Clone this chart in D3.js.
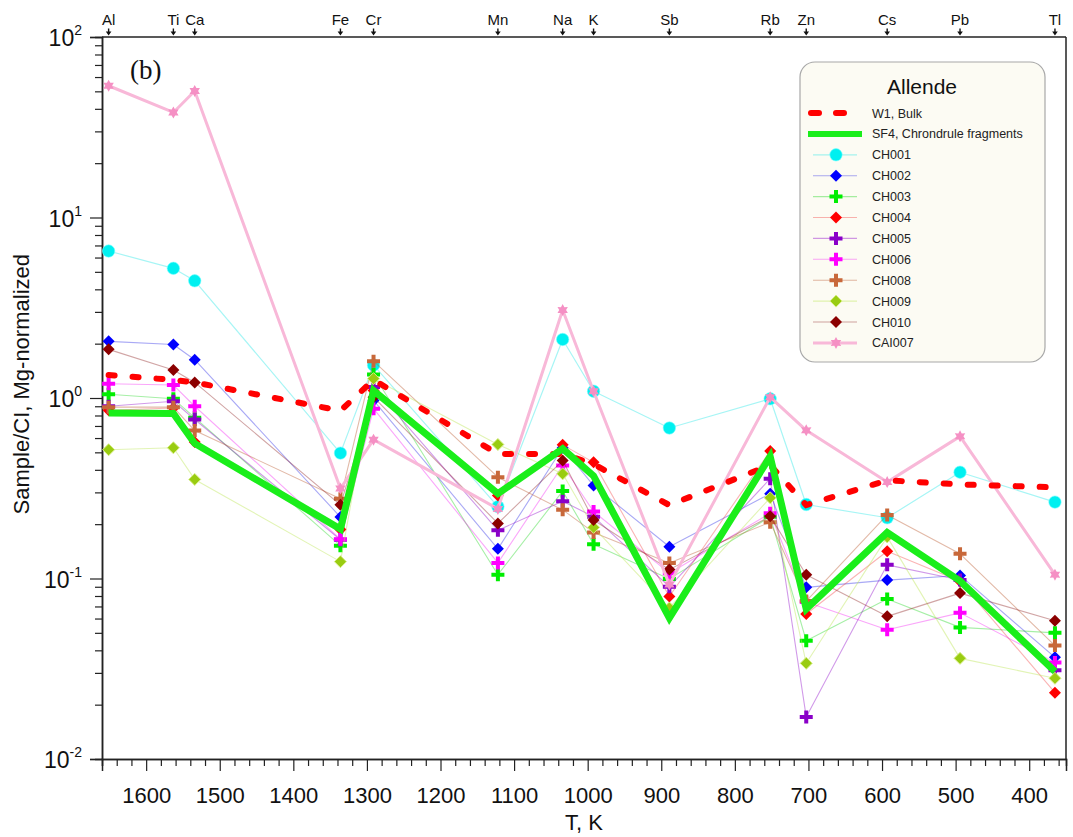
<!DOCTYPE html>
<html>
<head>
<meta charset="utf-8">
<script src="https://cdn.jsdelivr.net/npm/d3@7"></script>
<style>
  html, body { margin: 0; padding: 0; background: #fff; }
  svg { display: block; font-family: Arial, "Liberation Sans", sans-serif; }
</style>
</head>
<body>
<svg id="chart" width="1073" height="837"></svg>
<script>
// Elements and their 50% condensation temperatures (K)
const elements = ["Al", "Ti", "Ca", "Fe", "Cr", "Mn", "Na", "K", "Sb", "Rb", "Zn", "Cs", "Pb", "Tl"];
const tempsK   = [1651, 1563, 1534, 1336, 1291, 1122, 1034, 992, 889, 752, 703, 593, 494, 365];

// CI- and Mg-normalized abundances, one value per element above
const w1Bulk       = [1.34, 1.26, 1.22, 0.85, 1.26, 0.49, 0.49, 0.43, 0.255, 0.425, 0.255, 0.35, 0.332, 0.32];
const sf4Fragments = [0.826, 0.82, 0.56, 0.188, 1.10, 0.295, 0.524, 0.37, 0.0604, 0.475, 0.0678, 0.18, 0.097, 0.0305];
const ch001  = [6.52, 5.23, 4.46, 0.495, 1.52, 0.25, 2.11, 1.09, 0.682, 0.99, 0.257, 0.217, 0.388, 0.265];
const ch002  = [2.06, 1.98, 1.63, 0.219, 0.97, 0.146, 0.53, 0.327, 0.150, 0.295, 0.0893, 0.098, 0.104, 0.0366];
const ch003  = [1.05, 0.99, 0.778, 0.152, 1.35, 0.105, 0.305, 0.155, 0.0995, 0.22, 0.0452, 0.077, 0.0536, 0.050];
const ch004  = [0.855, 0.88, 0.57, 0.187, 1.10, 0.288, 0.55, 0.44, 0.0795, 0.508, 0.0636, 0.1416, 0.0965, 0.0233];
const ch005  = [0.90, 0.96, 0.76, 0.164, 1.15, 0.185, 0.268, 0.22, 0.09, 0.357, 0.0171, 0.119, 0.098, 0.031];
const ch006  = [1.20, 1.18, 0.90, 0.165, 0.873, 0.122, 0.423, 0.235, 0.107, 0.23, 0.074, 0.052, 0.0645, 0.0343];
const ch008  = [0.89, 0.89, 0.66, 0.277, 1.60, 0.364, 0.24, 0.18, 0.122, 0.205, 0.075, 0.225, 0.137, 0.0425];
const ch009  = [0.517, 0.53, 0.354, 0.124, 1.28, 0.553, 0.38, 0.192, 0.0687, 0.28, 0.0339, 0.17, 0.0361, 0.028];
const ch010  = [1.86, 1.43, 1.22, 0.256, 1.01, 0.202, 0.45, 0.211, 0.112, 0.221, 0.105, 0.0617, 0.083, 0.0584];
const cai007 = [53.7, 38.2, 50.2, 0.315, 0.588, 0.243, 3.07, 1.09, 0.0925, 1.01, 0.662, 0.342, 0.613, 0.105];

// Axis tick values
const xMajorTicks = [1600, 1500, 1400, 1300, 1200, 1100, 1000, 900, 800, 700, 600, 500, 400];
const yDecades = [0.01, 0.1, 1, 10, 100];
const yExponents = ["-2", "-1", "0", "1", "2"];

// Point-series styling
const samples = [
  { name: "CH001",  values: ch001,  color: "#00f0f0", line: "rgba(0,225,225,0.35)",   lw: 1.2, marker: "circle" },
  { name: "CH002",  values: ch002,  color: "#0000ff", line: "rgba(40,40,230,0.40)",   lw: 1.1, marker: "diamond" },
  { name: "CH003",  values: ch003,  color: "#00ee00", line: "rgba(0,210,0,0.35)",     lw: 1.1, marker: "plus" },
  { name: "CH004",  values: ch004,  color: "#ff0000", line: "rgba(240,40,40,0.35)",   lw: 1.1, marker: "diamond" },
  { name: "CH005",  values: ch005,  color: "#8a00c8", line: "rgba(140,0,200,0.40)",   lw: 1.1, marker: "plus" },
  { name: "CH006",  values: ch006,  color: "#ff00ff", line: "rgba(240,0,240,0.35)",   lw: 1.1, marker: "plus" },
  { name: "CH008",  values: ch008,  color: "#c8683a", line: "rgba(190,100,60,0.45)",  lw: 1.1, marker: "plus" },
  { name: "CH009",  values: ch009,  color: "#99cc11", line: "rgba(190,230,90,0.45)",  lw: 1.1, marker: "diamond", stroke: "#d8ee88" },
  { name: "CH010",  values: ch010,  color: "#8b0000", line: "rgba(140,30,30,0.40)",   lw: 1.1, marker: "diamond" },
  { name: "CAI007", values: cai007, color: "#f590c4", line: "#f8b8d8",               lw: 3.0, marker: "star" }
];

const svg = d3.select("#chart");
const plotLeft = 102, plotRight = 1066, plotTop = 37, plotBottom = 759;

const x = d3.scaleLinear().domain([1660, 350]).range([plotLeft, plotRight]);
const y = d3.scaleLog().domain([0.01, 100]).range([plotBottom, plotTop]);

// Marker shapes centred on the origin
const markerPath = {
  diamond: "M0,-6L6,0L0,6L-6,0Z",
  plus: "M-2,-6.5H2V-2H6.5V2H2V6.5H-2V2H-6.5V-2H-2Z",
  star: (() => {
    const pts = [];
    for (let i = 0; i < 12; i++) {
      const r = i % 2 === 0 ? 6 : 3.4;
      const a = -Math.PI / 2 + i * Math.PI / 6;
      pts.push([r * Math.cos(a), r * Math.sin(a)]);
    }
    return "M" + pts.map(p => p[0].toFixed(2) + "," + p[1].toFixed(2)).join("L") + "Z";
  })()
};

function drawMarker(g, type, cx, cy, fill, stroke) {
  if (type === "circle") {
    g.append("circle").attr("cx", cx).attr("cy", cy).attr("r", 6.2)
      .attr("fill", fill).attr("stroke", "#7ff").attr("stroke-width", 0.6);
  } else {
    g.append("path").attr("d", markerPath[type])
      .attr("transform", `translate(${cx},${cy})`)
      .attr("fill", fill)
      .attr("stroke", stroke || "none").attr("stroke-width", stroke ? 1 : 0);
  }
}

const line = d3.line().x((d, i) => x(tempsK[i])).y(d => y(d));

// ---- Axes ----
const axisColor = "#222";

// bottom axis: minor ticks every 20 K, major every 100 K
const xMinor = d3.range(360, 1661, 20).filter(t => t % 100 !== 0);
const gxMinor = svg.append("g").attr("transform", `translate(0,${plotBottom})`)
  .call(d3.axisBottom(x).tickValues(xMinor).tickSize(7).tickFormat(""));
const gxMajor = svg.append("g").attr("transform", `translate(0,${plotBottom})`)
  .call(d3.axisBottom(x).tickValues(xMajorTicks).tickSize(12).tickPadding(16).tickFormat(d3.format("d")));
[gxMinor, gxMajor].forEach(g => {
  g.select(".domain").attr("stroke", axisColor).attr("stroke-width", 1.5);
  g.selectAll(".tick line").attr("stroke", axisColor).attr("stroke-width", 1.2);
});
gxMajor.selectAll(".tick text").attr("font-size", 22).attr("fill", "#111")
  .attr("font-family", "Arial, 'Liberation Sans', sans-serif");

// left axis: log ticks
const yMinor = [];
[0.01, 0.1, 1, 10].forEach(d => { for (let k = 2; k <= 9; k++) yMinor.push(d * k); });
const gyMinor = svg.append("g").attr("transform", `translate(${plotLeft},0)`)
  .call(d3.axisLeft(y).tickValues(yMinor).tickSize(7).tickFormat(""));
const gyMajor = svg.append("g").attr("transform", `translate(${plotLeft},0)`)
  .call(d3.axisLeft(y).tickValues(yDecades).tickSize(12).tickFormat(""));
[gyMinor, gyMajor].forEach(g => {
  g.select(".domain").attr("stroke", axisColor).attr("stroke-width", 1.5);
  g.selectAll(".tick line").attr("stroke", axisColor).attr("stroke-width", 1.2);
});

// decade labels written as powers of ten
yDecades.forEach((d, i) => {
  const t = svg.append("text")
    .attr("x", 82).attr("y", y(d) + 9)
    .attr("text-anchor", "end").attr("font-size", 23).attr("fill", "#111");
  t.append("tspan").text("10");
  t.append("tspan").text(yExponents[i]).attr("font-size", 14).attr("dy", -11);
});

// top and right frame
svg.append("line").attr("x1", plotLeft).attr("x2", plotRight).attr("y1", plotTop).attr("y2", plotTop)
  .attr("stroke", axisColor).attr("stroke-width", 1.5);
svg.append("line").attr("x1", plotRight).attr("x2", plotRight).attr("y1", plotTop).attr("y2", plotBottom)
  .attr("stroke", axisColor).attr("stroke-width", 1.5);

// element labels with arrows along the top edge
const gTop = svg.append("g");
elements.forEach((el, i) => {
  const ex = x(tempsK[i]);
  gTop.append("text").attr("x", ex).attr("y", 25).attr("text-anchor", "middle")
    .attr("font-size", 15).attr("fill", "#111").text(el);
  gTop.append("path")
    .attr("d", `M${ex - 0.7},28.5H${ex + 0.7}V31.5H${ex + 2.8}L${ex},35.5L${ex - 2.8},31.5H${ex - 0.7}Z`)
    .attr("fill", "#111");
});

// axis titles
svg.append("text").attr("x", (plotLeft + plotRight) / 2).attr("y", 830).attr("text-anchor", "middle")
  .attr("font-size", 22).attr("fill", "#111").text("T, K");
svg.append("text").attr("transform", "rotate(-90)").attr("x", -254).attr("y", 29)
  .attr("text-anchor", "end").attr("font-size", 22).attr("fill", "#111")
  .text("Sample/CI, Mg-normalized");

// panel tag
svg.append("text").attr("x", 130).attr("y", 79).attr("font-size", 27)
  .attr("font-family", "'Liberation Serif', 'Times New Roman', serif").attr("fill", "#111").text("(b)");

// ---- Data ----
const plot = svg.append("g");

samples.forEach(s => {
  plot.append("path").datum(s.values).attr("d", line)
    .attr("fill", "none").attr("stroke", s.line).attr("stroke-width", s.lw)
    .attr("stroke-linejoin", "round");
  const gm = plot.append("g");
  s.values.forEach((v, i) => drawMarker(gm, s.marker, x(tempsK[i]), y(v), s.color, s.stroke));
});

// bulk meteorite: thick red dashes
plot.append("path").datum(w1Bulk).attr("d", line)
  .attr("fill", "none").attr("stroke", "#ff0000").attr("stroke-width", 6)
  .attr("stroke-linecap", "round").attr("stroke-dasharray", "6,18");

// chondrule fragments: thick green line
plot.append("path").datum(sf4Fragments).attr("d", line)
  .attr("fill", "none").attr("stroke", "#1aee1a").attr("stroke-width", 7)
  .attr("stroke-linejoin", "miter");

// ---- Legend ----
const lg = svg.append("g");
lg.append("rect").attr("x", 800).attr("y", 62).attr("width", 245).attr("height", 300)
  .attr("rx", 15).attr("fill", "#fcfbf3").attr("stroke", "#a8a8a8").attr("stroke-width", 1.2);
lg.append("text").attr("x", 922).attr("y", 94).attr("text-anchor", "middle")
  .attr("font-size", 21).attr("fill", "#111").text("Allende");

const rowY = i => 113 + i * 20.9;
const textX = 872;

lg.append("line").attr("x1", 811).attr("x2", 845).attr("y1", rowY(0)).attr("y2", rowY(0))
  .attr("stroke", "#ff0000").attr("stroke-width", 6).attr("stroke-linecap", "round")
  .attr("stroke-dasharray", "8,17");
lg.append("text").attr("x", textX).attr("y", rowY(0) + 4.5).attr("font-size", 12.5)
  .attr("fill", "#222").text("W1, Bulk");

lg.append("line").attr("x1", 808).attr("x2", 862).attr("y1", rowY(1)).attr("y2", rowY(1))
  .attr("stroke", "#1aee1a").attr("stroke-width", 6);
lg.append("text").attr("x", textX).attr("y", rowY(1) + 4.5).attr("font-size", 12.5)
  .attr("fill", "#222").text("SF4, Chrondrule fragments");

samples.forEach((s, k) => {
  const ry = rowY(k + 2);
  lg.append("line").attr("x1", 813).attr("x2", 857).attr("y1", ry).attr("y2", ry)
    .attr("stroke", s.line).attr("stroke-width", s.lw);
  drawMarker(lg, s.marker, 836, ry, s.color, s.stroke);
  lg.append("text").attr("x", textX).attr("y", ry + 4.5).attr("font-size", 12.5)
    .attr("fill", "#222").text(s.name);
});
</script>
</body>
</html>
